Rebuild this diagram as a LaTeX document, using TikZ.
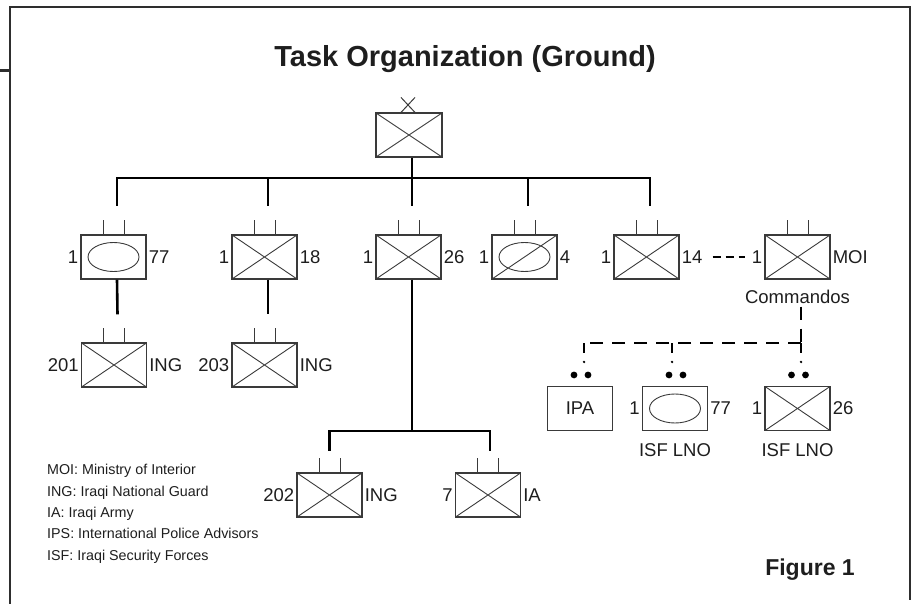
\documentclass[tikz,border=0pt]{standalone}
\usepackage{fontspec}
\setmainfont{Liberation Sans}
\usetikzlibrary{calc}
\definecolor{boxc}{HTML}{3A3A3A}
\definecolor{framec}{HTML}{2E2E2E}
\definecolor{txt}{HTML}{1E1E1E}
\tikzset{
 unitbox/.style={draw=boxc, line width=1.1bp, minimum width=65bp, minimum height=44bp, inner sep=0pt, text=txt, font=\fontsize{18.5bp}{20bp}\selectfont},
 infantry/.style={unitbox, path picture={\draw[boxc, line width=0.9bp] (path picture bounding box.south west) -- (path picture bounding box.north east) (path picture bounding box.north west) -- (path picture bounding box.south east);}},
 armor/.style={unitbox, path picture={\draw[boxc, line width=0.9bp] (path picture bounding box.center) ellipse [x radius=25.5bp, y radius=14.5bp];}},
 mech/.style={unitbox, path picture={\draw[boxc, line width=0.9bp] (path picture bounding box.center) ellipse [x radius=25.5bp, y radius=14.5bp] (path picture bounding box.south west) -- (path picture bounding box.north east);}},
 side/.style={inner sep=2bp, text=txt, font=\fontsize{18.5bp}{20bp}\selectfont},
 conn/.style={draw=black, line width=2.6bp},
 dconn/.style={draw=black, line width=2.6bp, dash pattern=on 13bp off 9bp},
 sdconn/.style={draw=black, line width=2.6bp, dash pattern=on 8bp off 5bp},
 tickline/.style={draw=boxc, line width=1bp},
 framel/.style={draw=framec, line width=1.5bp},
 legend/.style={anchor=base west, inner sep=0pt, text=txt, font=\fontsize{14.3bp}{16bp}\selectfont},
}
\newcommand\unitticks[1]{\draw[tickline] ([xshift=-10.5bp]#1.north) -- ++(0,-14) ([xshift=10.5bp]#1.north) -- ++(0,-14);}
\newcommand\sidelabels[3]{\node[side,anchor=east] (#1-l) at (#1.west) {#2}; \node[side,anchor=west] (#1-r) at (#1.east) {#3};}
\begin{document}
\begin{tikzpicture}[x=1bp,y=-1bp]
\useasboundingbox (0,0) rectangle (913,604);
% frame
\draw[framel] (10,604) -- (10,7) -- (910,7) -- (910,600);
\draw[draw=framec, line width=3bp] (0,71) -- (10,71);
% title
\node[anchor=base, inner sep=0pt, text=txt, font=\bfseries\fontsize{29bp}{32bp}\selectfont] (title) at (465,67) {Task Organization (Ground)};
% top unit
\node[infantry, minimum width=66bp] (top) at (409,135) {};
\draw[tickline] ([xshift=-8bp]top.north) -- ([xshift=6bp,yshift=15bp]top.north)
                ([xshift=6bp]top.north) -- ([xshift=-8bp,yshift=15bp]top.north);
% row 1
\node[armor] (u77) at (113.5,257) {};
\node[infantry] (u18) at (264.5,257) {};
\node[infantry] (u26) at (408.5,257) {};
\node[mech] (u4) at (524.5,257) {};
\node[infantry] (u14) at (646.5,257) {};
\node[infantry] (moi) at (797.5,257) {};
\foreach \u in {u77,u18,u26,u4,u14,moi} {\unitticks{\u}}
\sidelabels{u77}{1}{77}
\sidelabels{u18}{1}{18}
\sidelabels{u26}{1}{26}
\sidelabels{u4}{1}{4}
\sidelabels{u14}{1}{14}
\sidelabels{moi}{1}{MOI}
\node[side, anchor=north, inner sep=0pt] (cmd) at ([yshift=-10bp]moi.south) {Commandos};
% row 2
\node[infantry] (u201) at (114,365) {};
\node[infantry] (u203) at (264.5,365) {};
\unitticks{u201}\unitticks{u203}
\sidelabels{u201}{201}{ING}
\sidelabels{u203}{203}{ING}
% row 3
\node[infantry] (u202) at (329.5,495) {};
\node[infantry] (u7) at (488,495) {};
\unitticks{u202}\unitticks{u7}
\sidelabels{u202}{202}{ING}
\sidelabels{u7}{7}{IA}
% bottom right
\node[unitbox] (ipa) at (580,408.5) {IPA};
\node[armor] (isf77) at (675,408.5) {};
\node[infantry] (isf26) at (797.5,408.5) {};
\sidelabels{isf77}{1}{77}
\sidelabels{isf26}{1}{26}
\node[side, anchor=north, inner sep=0pt] (lno1) at ([yshift=-12bp]isf77.south) {ISF LNO};
\node[side, anchor=north, inner sep=0pt] (lno2) at ([yshift=-12bp]isf26.south) {ISF LNO};
% solid connectors
\coordinate (busy) at (0,178);
\coordinate (bus2y) at (0,431);
\coordinate (ct) at ([xshift=3bp]top.south);
\foreach \u in {u77,u18,u26,u4,u14} {\coordinate (c\u) at ([xshift=3.5bp]\u.north);}
\draw[conn] (ct) -- (ct |- busy);
\draw[conn, line cap=rect] (cu77 |- busy) -- (cu14 |- busy);
\foreach \u in {u77,u18,u26,u4,u14} {\draw[conn] (c\u |- busy) -- ([yshift=28bp]c\u);}
\draw[conn] ([xshift=3.5bp]u77.south) -- ([xshift=3.5bp,yshift=28bp]u201.north);
\draw[conn] ([xshift=3.5bp]u18.south) -- ([xshift=3.5bp,yshift=28bp]u203.north);
\coordinate (c26s) at ([xshift=3.5bp]u26.south);
\coordinate (c202) at (u202.north);
\coordinate (c7) at ([xshift=2bp]u7.north);
\draw[conn] (c26s) -- (c26s |- bus2y);
\draw[conn, line cap=rect] (c202 |- bus2y) -- (c7 |- bus2y);
\draw[conn] (c202 |- bus2y) -- ([yshift=21bp]c202);
\draw[conn] (c7 |- bus2y) -- ([yshift=21bp]c7);
% dashed connectors
\draw[sdconn] ([xshift=33bp]u14.east) -- ([xshift=-19bp]moi.west);
\coordinate (dhy) at (0,343);
\coordinate (dipa) at ([xshift=4bp]ipa.north);
\coordinate (disf77) at ([xshift=-3bp]isf77.north);
\coordinate (disf26) at ([xshift=3.5bp]isf26.north);
\draw[dconn] ([xshift=3.5bp,yshift=-27bp]moi.south) -- (disf26 |- dhy);
\draw[dconn] (disf26 |- dhy) -- (dipa |- dhy);
\foreach \d in {dipa,disf77,disf26} {
  \draw[conn] (\d |- dhy) -- ([yshift=33bp]\d);
  \fill[black] ([yshift=24bp]\d) circle[radius=1.3bp];
}
\foreach \b in {ipa,isf77,isf26} {
  \fill[black] ([xshift=-6bp,yshift=11bp]\b.north) circle[radius=3.4bp];
  \fill[black] ([xshift=8bp,yshift=11bp]\b.north) circle[radius=3.4bp];
}
% legend
\node[legend] (lg1) at (47,474) {MOI: Ministry of Interior};
\node[legend] (lg2) at (47,496) {ING: Iraqi National Guard};
\node[legend] (lg3) at (47,517) {IA: Iraqi Army};
\node[legend] (lg4) at (47,538.5) {IPS: International Police Advisors};
\node[legend] (lg5) at (47,560) {ISF: Iraqi Security Forces};
% figure label
\node[anchor=base, inner sep=0pt, text=txt, font=\bfseries\fontsize{23bp}{26bp}\selectfont] (fig) at (810,575) {Figure 1};
\end{tikzpicture}
\end{document}
